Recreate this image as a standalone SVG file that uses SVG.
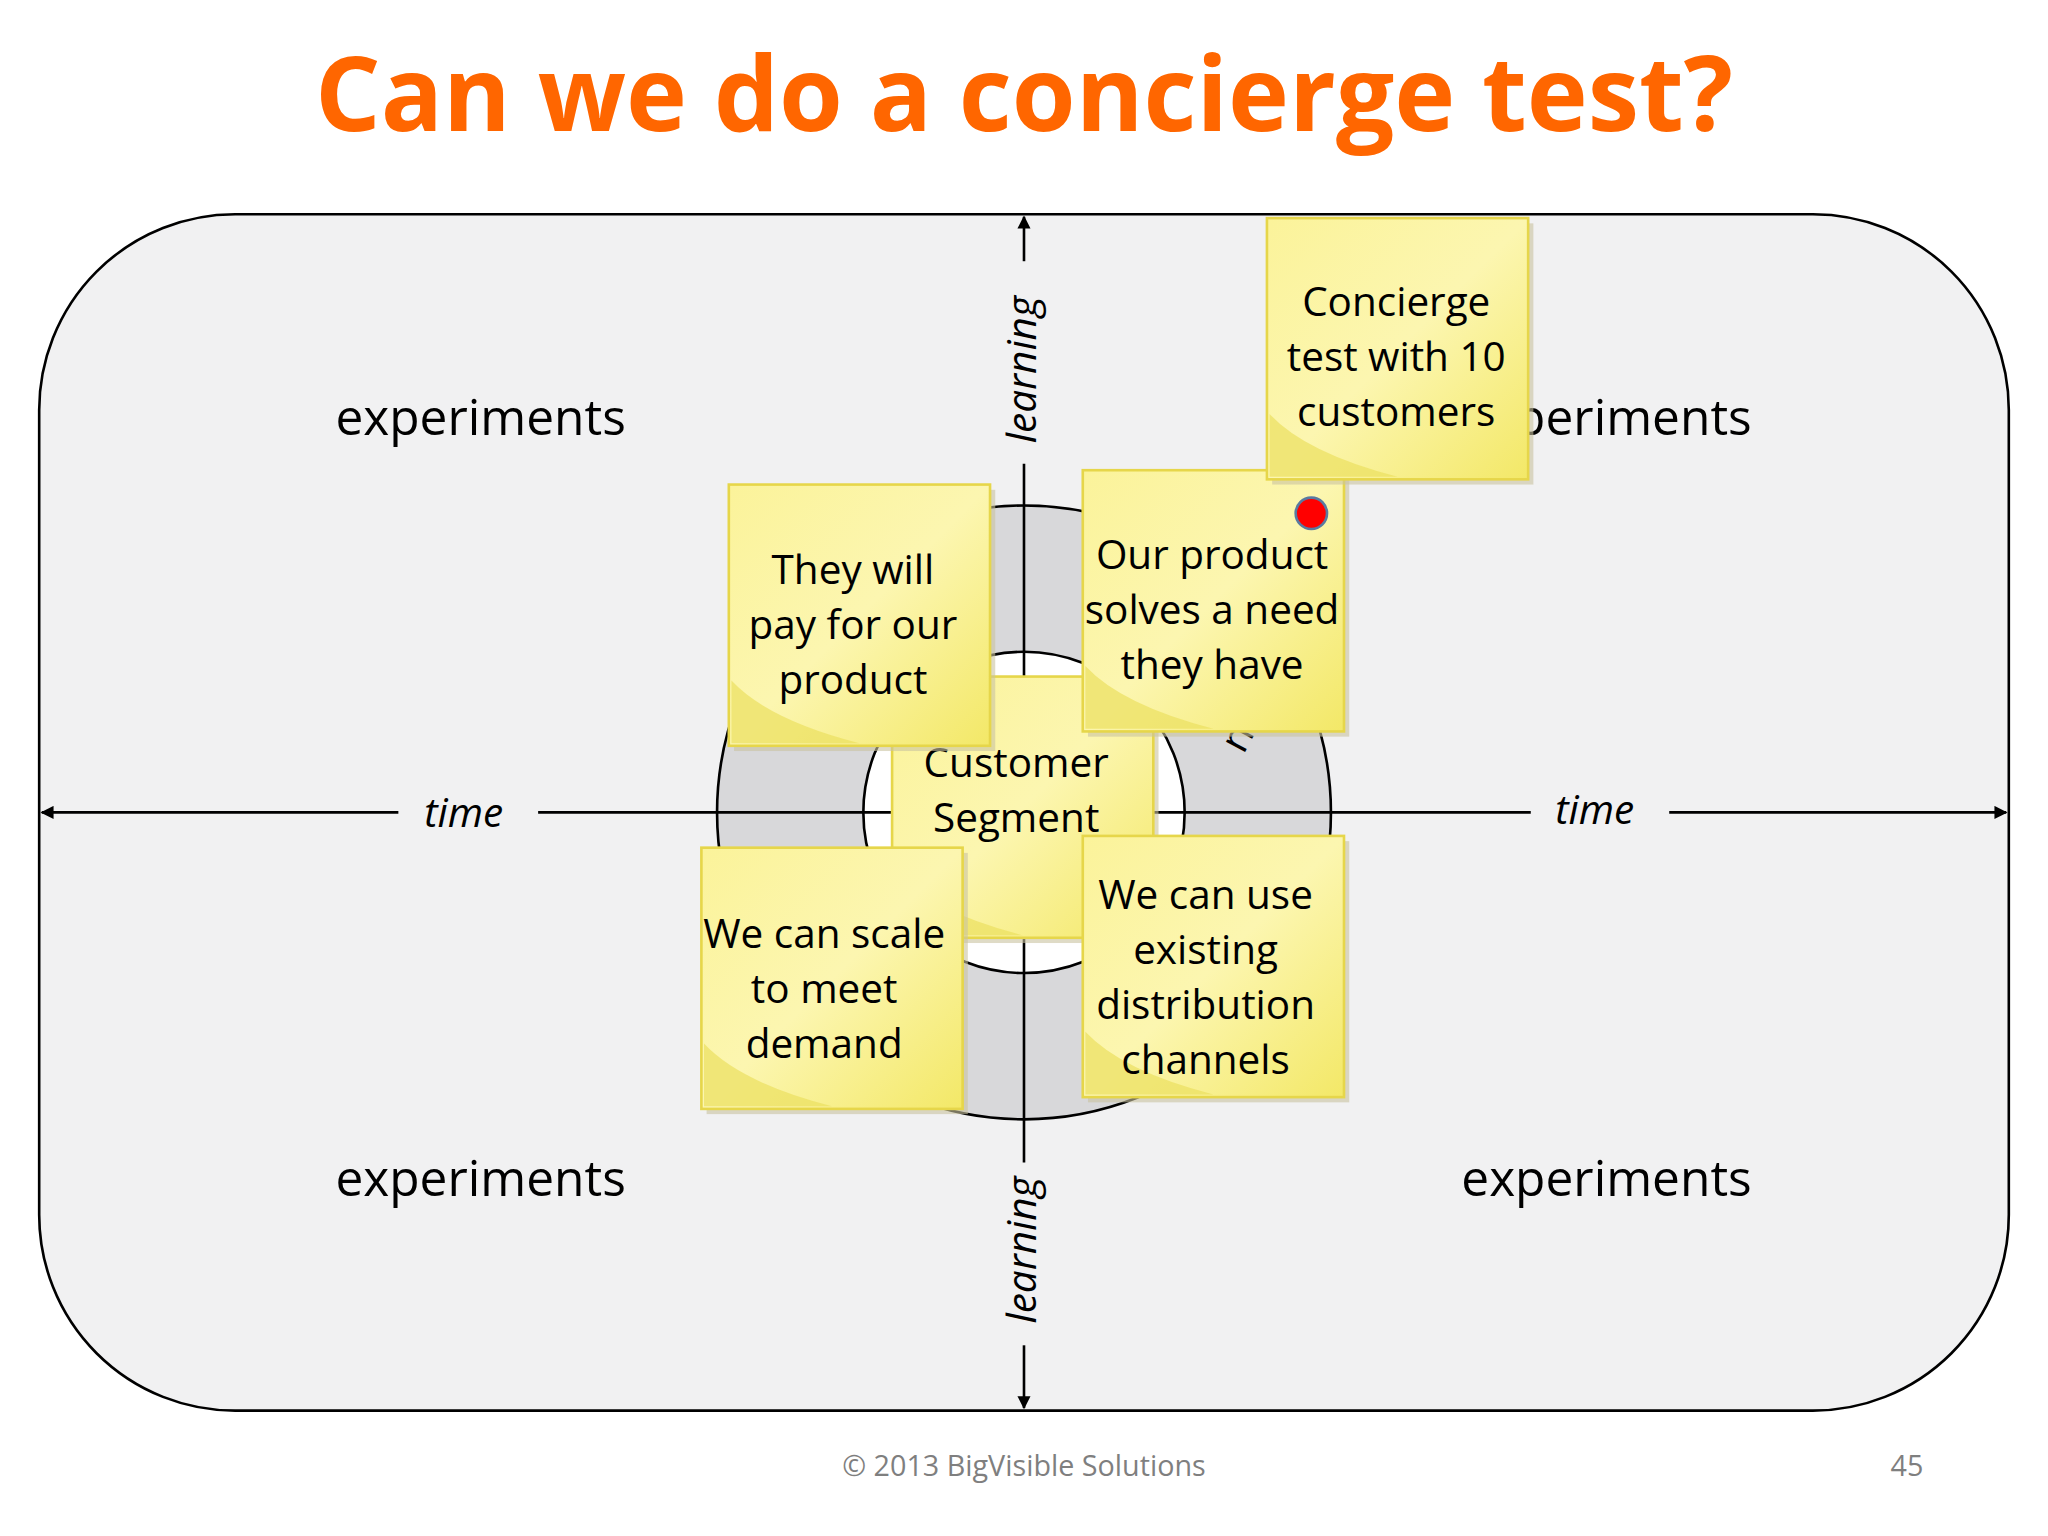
<svg xmlns="http://www.w3.org/2000/svg" width="2048" height="1536" viewBox="0 0 2048 1536">
<style>
.t{font-family:"Open Sans","Liberation Sans",sans-serif;fill:#000}
.st{font-size:31px;text-anchor:middle}
.ex{font-size:38px;text-anchor:middle}
.ax{font-size:31px;font-style:italic;text-anchor:middle}
.note{fill:url(#yg);stroke:#e6d64a;stroke-width:2}
.sh{fill:#c9c3a0;opacity:.6}
.curl{fill:#ebe060;opacity:.7}
.ln{stroke:#000;stroke-width:2;fill:none}
</style>
<defs>
<linearGradient id="yg" x1="0" y1="0" x2="1" y2="1"><stop offset="0" stop-color="#fbf39a"/><stop offset=".5" stop-color="#fcf6b0"/><stop offset="1" stop-color="#f3e867"/></linearGradient>
<marker id="ar" viewBox="0 0 10 10" refX="9" refY="5" markerWidth="11" markerHeight="10" orient="auto-start-reverse" markerUnits="userSpaceOnUse"><path d="M0,0 L10,5 L0,10 z" fill="#000"/></marker>
<g id="sticky">
<rect class="sh" x="4" y="4" width="200" height="200"/>
<rect class="note" x="0" y="0" width="200" height="200"/>
<path class="curl" d="M2,150 Q30,180 100,198 L2,198 Z"/>
</g>
</defs>
<rect width="2048" height="1536" fill="#fff"/>
<g transform="scale(1.30612)">
<text x="784" y="100" font-family="'Open Sans','Liberation Sans',sans-serif" font-weight="bold" font-size="79" fill="#ff6600" text-anchor="middle">Can we do a concierge test?</text>
<rect x="30" y="164" width="1508" height="916" rx="150" fill="#f1f1f2" stroke="#000" stroke-width="2"/>
<g id="ring">
<circle cx="784" cy="622" r="179" fill="none" stroke="#d8d8da" stroke-width="112"/>
<circle cx="784" cy="622" r="235" class="ln"/>
<circle cx="784" cy="622" r="123" fill="#fff" stroke="#000" stroke-width="2"/>
</g>
<g id="connectors">
<path class="ln" d="M305,622 H32" marker-end="url(#ar)"/>
<path class="ln" d="M412,622 H1172"/>
<path class="ln" d="M1278,622 H1536" marker-end="url(#ar)"/>
<path class="ln" d="M784,200 V166" marker-end="url(#ar)"/>
<path class="ln" d="M784,355 V890"/>
<path class="ln" d="M784,1030 V1078" marker-end="url(#ar)"/>
</g>
<text class="t ax" x="355" y="633">time</text>
<text class="t ax" x="1221" y="631">time</text>
<text class="t ax" transform="translate(793,283) rotate(-90)">learning</text>
<text class="t ax" transform="translate(793,957) rotate(-90)">learning</text>
<text class="t ex" x="368" y="333">experiments</text>
<text class="t ex" x="1230" y="333">experiments</text>
<text class="t ex" x="368" y="916">experiments</text>
<text class="t ex" x="1230" y="916">experiments</text>
<text class="t" font-size="31" transform="translate(952,578) rotate(-62)">n</text>
<g id="n-customer"><use href="#sticky" x="683" y="518"/><text class="t st" x="778" y="595">Customer</text><text class="t st" x="778" y="637">Segment</text></g>
<g id="n-pay"><use href="#sticky" x="558" y="371"/><text class="t st" x="653" y="447">They will</text><text class="t st" x="653" y="489">pay for our</text><text class="t st" x="653" y="531">product</text></g>
<g id="n-need"><use href="#sticky" x="829" y="360"/><text class="t st" x="928" y="436">Our product</text><text class="t st" x="928" y="478">solves a need</text><text class="t st" x="928" y="520">they have</text><circle cx="1004" cy="393" r="12" fill="#f00" stroke="#5a7aa0" stroke-width="2"/></g>
<g id="n-concierge"><use href="#sticky" x="970" y="167"/><text class="t st" x="1069" y="242">Concierge</text><text class="t st" x="1069" y="284">test with 10</text><text class="t st" x="1069" y="326">customers</text></g>
<g id="n-scale"><use href="#sticky" x="537" y="649"/><text class="t st" x="631" y="726">We can scale</text><text class="t st" x="631" y="768">to meet</text><text class="t st" x="631" y="810">demand</text></g>
<g id="n-channels"><use href="#sticky" x="829" y="640"/><text class="t st" x="923" y="696">We can use</text><text class="t st" x="923" y="738">existing</text><text class="t st" x="923" y="780">distribution</text><text class="t st" x="923" y="822">channels</text></g>
<text x="784" y="1130" font-family="'Open Sans','Liberation Sans',sans-serif" font-size="22" fill="#7f7f7f" text-anchor="middle">© 2013 BigVisible Solutions</text>
<text x="1460" y="1130" font-family="'Open Sans','Liberation Sans',sans-serif" font-size="22" fill="#7f7f7f" text-anchor="middle">45</text>
</g>
</svg>
